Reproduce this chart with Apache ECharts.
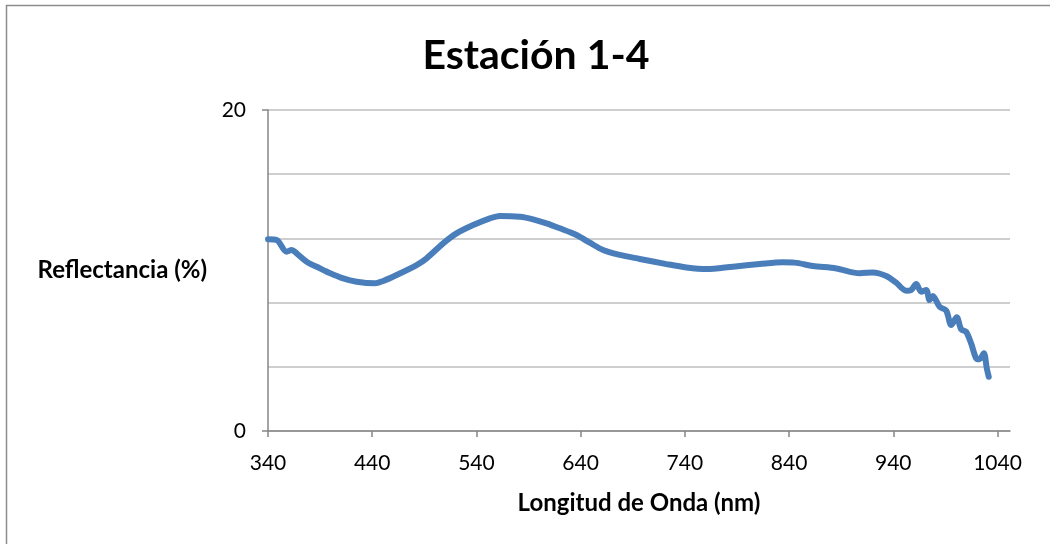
<!DOCTYPE html>
<html>
<head>
<meta charset="utf-8">
<script src="https://cdn.jsdelivr.net/npm/echarts@6/dist/echarts.min.js"></script>
<style>
html,body{margin:0;padding:0;background:#fff;}
#chart{width:1050px;height:544px;}
</style>
</head>
<body>
<div id="chart"></div>
<script>
// Wavelength (nm) and reflectance (%)
var wavelength = [340, 348.3, 357.9, 362.7, 367.5, 377.1, 389.9, 396.3, 412.2, 425.1, 442.6, 450.6, 463.4, 482.6, 492.2, 508.1, 520.9, 536.9, 552.9, 562.5, 581.6, 594.4, 607.2, 620.0, 636.0, 648.8, 661.5, 677.5, 696.7, 722.3, 741.5, 760.7, 786.2, 811.8, 834.1, 845.3, 862.9, 885.3, 907.7, 920.4, 933.2, 942.8, 952.4, 957.2, 962.0, 966.8, 971.6, 974.8, 977.9, 984.4, 990.8, 995.6, 1000.9, 1005.2, 1009.9, 1014.7, 1019.5, 1022.7, 1026.9, 1029.7, 1031.6];
var reflectance = [11.95, 11.9, 11.17, 11.28, 11.07, 10.55, 10.13, 9.93, 9.51, 9.30, 9.20, 9.35, 9.72, 10.34, 10.76, 11.69, 12.31, 12.83, 13.25, 13.40, 13.35, 13.19, 12.94, 12.63, 12.21, 11.73, 11.28, 10.97, 10.72, 10.40, 10.19, 10.09, 10.24, 10.40, 10.51, 10.49, 10.28, 10.13, 9.83, 9.88, 9.66, 9.24, 8.74, 8.79, 9.16, 8.68, 8.79, 8.16, 8.41, 7.74, 7.50, 6.60, 7.08, 6.33, 6.19, 5.46, 4.53, 4.47, 4.84, 3.91, 3.38];
var xTicks = [340, 440, 540, 640, 740, 840, 940, 1040];
var yTicks = [0, 20];

var seriesData = wavelength.map(function (w, i) { return [w, reflectance[i]]; });
var FONT = 'Lato, Carlito, "Open Sans", sans-serif';

var chart = echarts.init(document.getElementById('chart'));
chart.setOption({
  animation: false,
  backgroundColor: '#ffffff',
  title: {
    text: 'Estación 1-4',
    left: 531,
    top: 30,
    textAlign: 'center',
    textStyle: { fontFamily: FONT, fontWeight: 'bold', fontSize: 41, color: '#000' }
  },
  graphic: [{
    type: 'polyline',
    shape: { points: [[6.5, 600], [6.5, 5.5], [1100, 5.5]] },
    style: { stroke: '#8c8c8c', lineWidth: 1.5, fill: null },
    silent: true
  }],
  grid: { left: 268, right: 40, top: 110, bottom: 113 },
  xAxis: {
    type: 'value',
    min: 340,
    max: 1052,
    name: 'Longitud de Onda (nm)',
    nameLocation: 'middle',
    nameGap: 60,
    nameTextStyle: { fontFamily: FONT, fontWeight: 'bold', fontSize: 24, color: '#000' },
    axisLine: { show: true, lineStyle: { color: '#868686', width: 1.5 } },
    axisTick: { show: true, length: 6, customValues: xTicks, lineStyle: { color: '#868686', width: 1.5 } },
    axisLabel: {
      customValues: xTicks, fontFamily: FONT, fontSize: 21, color: '#000', margin: 22,
      formatter: function (v) { return String(v); }
    },
    splitLine: { show: false }
  },
  yAxis: {
    type: 'value',
    min: 0,
    max: 20,
    interval: 20,
    name: 'Reflectancia (%)',
    nameLocation: 'middle',
    nameRotate: 0,
    nameGap: 61,
    nameTextStyle: { fontFamily: FONT, fontWeight: 'bold', fontSize: 24, color: '#000' },
    axisLine: { show: true, lineStyle: { color: '#868686', width: 1.5 } },
    axisTick: { show: true, length: 6, lineStyle: { color: '#868686', width: 1.5 } },
    axisLabel: {
      fontFamily: FONT, fontSize: 21, color: '#000', margin: 22,
      formatter: function (v) { return String(v); }
    },
    splitLine: { show: true, lineStyle: { color: '#bfbfbf', width: 1.5 } },
    minorTick: { show: false, splitNumber: 5 },
    minorSplitLine: { show: true, lineStyle: { color: '#bfbfbf', width: 1.5 } }
  },
  series: [{
    type: 'line',
    data: seriesData,
    showSymbol: false,
    smooth: 0.3,
    lineStyle: { color: '#4a7ebb', width: 6, cap: 'round', join: 'round' },
    itemStyle: { color: '#4a7ebb' }
  }]
});
</script>
</body>
</html>
